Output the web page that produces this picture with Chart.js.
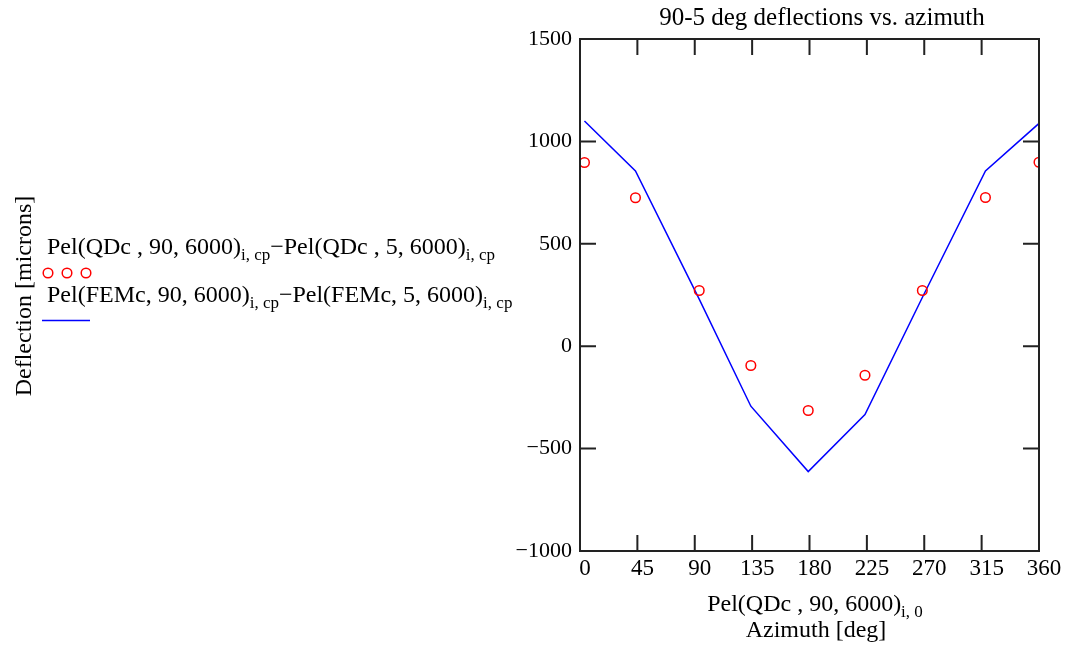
<!DOCTYPE html>
<html>
<head>
<meta charset="utf-8">
<script src="https://cdn.jsdelivr.net/npm/chart.js@4"></script>
<style>
  html, body { margin: 0; padding: 0; background: #fff; }
  #wrap { width: 1065px; height: 646px; }
</style>
</head>
<body>
<div id="wrap"><canvas id="deflChart" width="1065" height="646"></canvas></div>
<script>
// azimuth positions (deg) of the sampled points
const azimuth = [3.5, 43.5, 93.5, 134, 179, 223.5, 268.5, 318, 360];
// QDc model, 90 - 5 deg difference (microns)
const qdcDiff = [897, 725, 272, -94, -314, -142, 272, 726, 898];
// FEMc model, 90 - 5 deg difference (microns)
const femcDiff = [1100, 856, 230, -293, -612, -334, 238, 856, 1088];

const xTicks = [0, 45, 90, 135, 180, 225, 270, 315, 360];
const yTicks = [-1000, -500, 0, 500, 1000, 1500];

const titleText = '90-5 deg deflections vs. azimuth';
const yTitle = 'Deflection [microns]';
const xTitleParts = [['Pel(QDc , 90, 6000)', false], ['i, 0', true]];
const xTitle2 = 'Azimuth [deg]';
const qdcLegend = [['Pel(QDc , 90, 6000)', false], ['i, cp', true], ['\u2212Pel(QDc , 5, 6000)', false], ['i, cp', true]];
const femcLegend = [['Pel(FEMc, 90, 6000)', false], ['i, cp', true], ['\u2212Pel(FEMc, 5, 6000)', false], ['i, cp', true]];

const FONT = '"Liberation Serif", "Times New Roman", serif';

function drawRich(ctx, parts, x, y, align) {
    let total = 0;
    parts.forEach(p => {
        ctx.font = (p[1] ? 17 : 24) + 'px ' + FONT;
        total += ctx.measureText(p[0]).width;
    });
    let cx = align === 'center' ? x - total / 2 : x;
    parts.forEach(p => {
        ctx.font = (p[1] ? 17 : 24) + 'px ' + FONT;
        ctx.fillText(p[0], cx, p[1] ? y + 6 : y);
        cx += ctx.measureText(p[0]).width;
    });
}

const decorations = {
    id: 'decorations',
    afterDraw(chart) {
        const ctx = chart.ctx;
        const a = chart.chartArea;
        const xs = chart.scales.x, ys = chart.scales.y;
        ctx.save();
        // frame + inward ticks
        ctx.strokeStyle = '#222';
        ctx.lineWidth = 2;
        ctx.strokeRect(a.left, a.top, a.right - a.left, a.bottom - a.top);
        ctx.beginPath();
        xTicks.forEach(v => {
            const px = xs.getPixelForValue(v);
            ctx.moveTo(px, a.bottom); ctx.lineTo(px, a.bottom - 16);
            ctx.moveTo(px, a.top); ctx.lineTo(px, a.top + 16);
        });
        yTicks.forEach(v => {
            const py = ys.getPixelForValue(v);
            ctx.moveTo(a.left, py); ctx.lineTo(a.left + 16, py);
            ctx.moveTo(a.right, py); ctx.lineTo(a.right - 16, py);
        });
        ctx.stroke();

        ctx.fillStyle = '#000';
        ctx.textBaseline = 'alphabetic';
        // title
        ctx.font = '25px ' + FONT;
        ctx.textAlign = 'center';
        ctx.fillText(titleText, 822, 25);
        // x axis titles
        ctx.textAlign = 'left';
        drawRich(ctx, xTitleParts, 815, 611, 'center');
        ctx.font = '24px ' + FONT;
        ctx.textAlign = 'center';
        ctx.fillText(xTitle2, 816, 637);
        // y axis title
        ctx.save();
        ctx.translate(31, 296);
        ctx.rotate(-Math.PI / 2);
        ctx.fillText(yTitle, 0, 0);
        ctx.restore();
        // legend
        ctx.textAlign = 'left';
        drawRich(ctx, qdcLegend, 47, 254);
        drawRich(ctx, femcLegend, 47, 302);
        ctx.strokeStyle = '#ff0000';
        ctx.lineWidth = 1.5;
        [48, 67, 86].forEach(cx => {
            ctx.beginPath();
            ctx.arc(cx, 273, 4.8, 0, Math.PI * 2);
            ctx.stroke();
        });
        ctx.strokeStyle = '#0000ff';
        ctx.beginPath();
        ctx.moveTo(42, 320.5); ctx.lineTo(90, 320.5);
        ctx.stroke();
        ctx.restore();
    }
};

const ctx = document.getElementById('deflChart').getContext('2d');
new Chart(ctx, {
    type: 'line',
    data: {
        datasets: [{
            label: 'QDc',
            data: azimuth.map((az, i) => ({ x: az, y: qdcDiff[i] })),
            showLine: false,
            borderColor: '#ff0000',
            backgroundColor: 'rgba(0,0,0,0)',
            pointStyle: 'circle',
            pointRadius: 4.8,
            pointBorderWidth: 1.5
        }, {
            label: 'FEMc',
            data: azimuth.map((az, i) => ({ x: az, y: femcDiff[i] })),
            borderColor: '#0000ff',
            borderWidth: 1.5,
            pointRadius: 0,
            tension: 0,
            fill: false
        }]
    },
    options: {
        responsive: false,
        animation: false,
        layout: { padding: { left: 0, top: 39, right: 26, bottom: 0 } },
        plugins: { legend: { display: false }, tooltip: { enabled: false } },
        scales: {
            x: {
                type: 'linear',
                min: 0,
                max: 360,
                afterBuildTicks: s => { s.ticks = xTicks.map(v => ({ value: v })); },
                afterFit: s => { s.height = 95; },
                grid: { display: false },
                border: { display: false },
                ticks: { color: '#000', font: { family: FONT, size: 23 }, padding: -4, labelOffset: 5, maxRotation: 0 }
            },
            y: {
                min: -1000,
                max: 1500,
                afterBuildTicks: s => { s.ticks = yTicks.map(v => ({ value: v })); },
                afterFit: s => { s.width = 580; },
                grid: { display: false },
                border: { display: false },
                ticks: {
                    color: '#000',
                    font: { family: FONT, size: 22 },
                    padding: 0,
                    callback: v => String(v).replace('-', '\u2212')
                }
            }
        }
    },
    plugins: [decorations]
});
</script>
</body>
</html>
